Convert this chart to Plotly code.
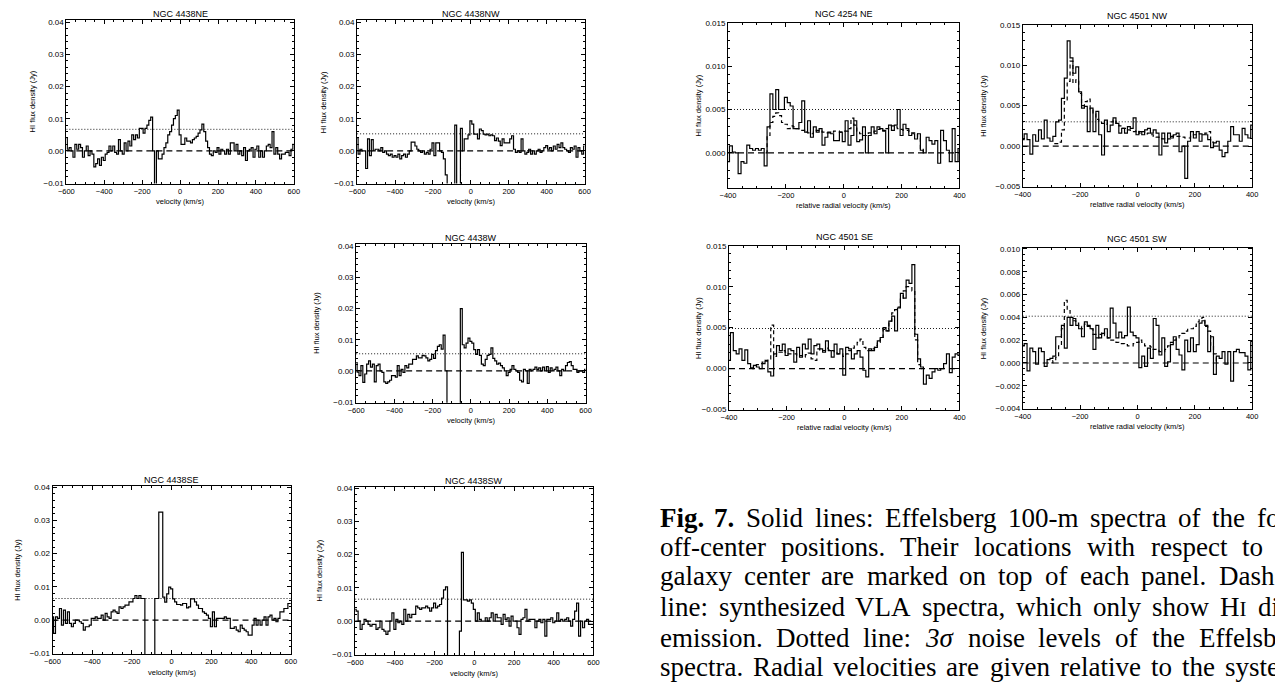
import plotly.graph_objects as go

W, H = 1275, 683

# ---------------- velocity grids (km/s) ----------------
vel_4438 = list(range(-600, 601, 10))
vel_right = list(range(-400, 401, 10))

# ---------------- NGC 4438 Effelsberg spectra (mJy) ----------------
spec_4438_ne = [4, 0.5, 1, 0, -2, 2, 0.5, 2, 1, -2,
                0, 1.5, -1.5, 0, -1, -5, -4, -2.5, -4.5, -2,
                -3, -1, -0.5, 1.5, 0, 1.5, -0.5, -1, 3.5, 0,
                -1, 2.5, 0, 3, 1.5, 5, 3.5, 5, 4, 7,
                7, 5.5, 7, 8, 9.5, 10.5, 0, -15, 0, -2.5,
                -2.5, -1, 1, 2.5, 5, 6, 8, 10, 11, 12.7,
                5, 2, 2, 4, 3, 3, 2.5, 3.5, 4, 4.5,
                5.5, 6.5, 8.3, 6, 3, 1, -1, -1.5, 0, -0.5,
                1, -1, 0.5, 0, -1, 0.5, -1, 2.5, 2.5, 0,
                2, -1, 0, -1.5, 1, -3, 0, 0.5, 1, -2,
                0.5, 1.5, -2, 0, -2, 0, 1.5, 2, 1, 6,
                -1, 1, -1, -2.5, -1, -1, -0.5, -0.5, -1.5, 0.5,
                2]
spec_4438_nw = [4, -1, 0.5, 0, 0, -5.5, 3.7, -1.5, 3.5, 0,
                0.5, 0.5, 0, 1, -0.5, 0, -1, -1.5, -1, -2,
                -1.5, -2, -1, -2.5, -1.5, -1, -2, -1, 0, 2.7,
                2.7, 1.5, 0.5, 0, -0.5, 0, -1, -0.5, -1, 0.5,
                2.5, -1.5, 2.5, 2.5, 0, -0.5, -2.5, -7.5, -15, -15,
                -15, -15, 8, -15, -15, 7, 0, 3.7, 3.7, 5,
                9.3, 8.3, 5.2, 5.2, 3.7, 6.8, 6.3, 5.2, 5, 5.2,
                4.7, 5, 4.7, 3.2, 4, 3, 1.6, 3.7, 2.5, 2.5,
                2.5, 3.7, 4.7, 0.5, -0.5, 0, -0.5, 3.7, 0, -1,
                -0.5, 0.5, -1, 0, -1, 0, 0.5, -0.5, 0, 1,
                1.6, 0.5, 1, 0, 1.5, 0.5, 2, 1, 2.5, 1,
                0.5, 0, -0.5, 1, 0.5, 1.5, -2, 1, 0, -1,
                1.5]
spec_4438_w = [2.7, -0.4, -1.5, 1.7, -3.7, -1, 2.2, 3.2, 1.2, 2.2,
               -3.5, 1.7, 2.2, 0, -0.5, -3.5, -4, -3.5, -3, -1.5,
               -1.5, -2, 1.7, -1.5, 0.5, -0.5, 1.7, 1, 2.2, 2.2,
               3.7, 3.7, 4.8, 4.2, 4.2, 5, 4.8, 4.2, 3.2, 3.7,
               5.3, 4, 6.5, 7.9, 8.4, 7, 11.5, 0, -15, -15,
               -15, -15, -15, -15, -15, 20, 8.4, 7.4, 8.9, 10.5,
               9.5, 8.9, 6.8, 5.3, 6.8, 5, 2.2, 1.7, 3.7, 5,
               5.3, 7.4, 4, 3.2, 2.2, 2.5, 1.7, 1, 0, -1.5,
               -0.5, 0.5, 1.7, 0.5, 0, -0.5, -3, -3.5, 0.5, 0,
               -4, 0.5, 0, 0.5, 1.2, 0.5, 1, 0, 1.2, 0,
               1.4, -0.5, 1, 0, 0.5, 1.2, 0, -1.5, 0.5, 0,
               1.7, 2.7, 3, 1.7, 0.5, 0.5, -0.5, 0, 0, -0.5,
               0.5]
spec_4438_se = [1, -4, 1, 0.5, 3.5, -1.5, 3, -1, 2.5, -1,
                -2, -1, 0, 0, -0.5, -1, -3, -2, -2, -1.5,
                0.5, 0.5, 1, 0.5, 0.5, 1.5, 0, 2, 1, 0.5,
                2.5, 3, 2.5, 2, 4, 3.5, 4, 4.5, 4.5, 5.5,
                5.5, 6.5, 7.4, 6.5, 7.4, 6.5, 6.5, -15, -15, -15,
                -15, -15, 6.5, 6.5, 32.5, 32.5, 6.9, 5.4, 7.9, 9.9,
                9.4, 6.4, 5.5, 4.7, 4.7, 4.5, 5, 5, 3.7, 4,
                6.4, 6.4, 5.5, 4.5, 3.5, 3.5, 2.5, 2, 1.5, 0.5,
                -2, 2.5, -2, 0.5, 0.5, 0.5, 0.5, 1, 0.5, 0.5,
                -2.5, -2.5, -2, -3, -3.5, -1.5, -2.5, -3, -3.5, -4.5,
                -4.5, -1.5, 0.5, -1.5, 0, -1.5, 0, 1, -1.5, 1,
                1.5, 0, 0.5, -0.5, 0.5, 2.5, 2.5, 3.5, 3.5, 5,
                5]
spec_4438_sw = [3.5, 3, 0, -2.5, -1, 0.5, 0, -1, -1.5, -1,
                -1, -2.5, -2, 0, -2.5, -3, -4, -3, 0, 2.5,
                -2.5, 0.5, -0.5, 0, -1, 3.5, 0, 2, 1, 2,
                2, 4.5, 4, 3.5, 4, 4, 4.5, 4, 3, 4,
                5.4, 4, 4.5, 5, 6.9, 9.4, 10.3, -15, -15, -15,
                -15, -15, -15, -3, 20.7, 6.4, 6.4, 6, 6.4, 5.4,
                3.5, 0, 2.5, 0.5, 0, 0, 1, 0, 1, 2.5,
                0, 2, 1, 1, -1, 2, 0.5, 1, -1.5, 1.5,
                0, 0, -2, -4, 0.5, 1, 3.5, 0, 0.5, 0.5,
                0.5, -2, 0, 0.5, -0.5, 0.5, -4.5, 0.5, 0.5, 1,
                -0.5, 0, 2.5, 0, 0.5, 0, 0.5, 1, 0, -1.5,
                0.5, 3, 5.4, -4.5, 0, -2, 0, 0.5, -1, -1,
                -1]

# ---------------- NGC 4254 / NGC 4501 Effelsberg spectra (mJy) ----------------
spec_4254_ne = [-1, 0.8, 0.1, 0, -2.4, -1, -1.2, 0.9, 0.5, 0.3,
                0.5, 0.3, 0.5, -1.5, 3, 6.8, 5, 7.3, 5, 5,
                6.4, 5.8, 5.4, 2.8, 2.8, 3.5, 6, 2.4, 3.7, 1.8,
                3, 2.4, 2.8, 0.9, 1.8, 2.4, 2.2, 1.4, 1.4, 2.4,
                1.3, 3.7, 0.9, 2, 3.7, 1.3, 1.5, 3, 0, 2,
                3, 2.2, 3, 2.8, 2.6, 0, 3.2, 2.6, 3.2, 5,
                2, 3.3, 2.8, 2, 2.2, 1.6, 2.2, 0.3, 0, 1.8,
                1.4, 1, 1.4, -1.2, 2.6, 1.4, 0.3, -1, 2.8, -1,
                0.5]
spec_4501_nw = [0.8, 1.5, 0.8, -1, 1.4, 0.6, 2, 0.9, 3.2, 1,
                0.6, 1.2, 3, 3.2, 5.9, 8.4, 13, 10.9, 9, 9.8,
                6.7, 4.7, 4.9, 1.8, 4.7, 1.8, 4.3, 1.4, -1.1, 3.2,
                1.8, 2.6, 3.5, 2.8, 1.6, 2.2, 1.6, 2.4, 2.2, 3.5,
                1.4, 1.8, 1.4, 2, 2.2, 1.6, 2, 1.6, -1.1, 1.6,
                0.4, 1.6, 1, 1.4, 1.6, -0.7, 0, -4, 0.6, 1.8,
                1, 1.8, 0.6, 1.4, 1.4, 0.8, -0.2, 0.4, 0.6, -0.5,
                -1.3, -0.8, 0.6, 2.4, 1.4, 1.4, 0.6, 2.2, 1.4, 1,
                2.6]
spec_4501_se = [1, 4.4, 2.2, 1.8, 2.4, 1, 2.3, 0.6, 0.1, 0.4,
                0.2, 0, 0.6, 0.9, -0.4, -0.9, 1.8, 2.8, 2.2, 3,
                1.6, 2.4, 2.2, 0.8, 2.6, 1.4, 3, 2.4, 3.6, 1.8,
                2.8, 3, 2.4, 2, 3.4, 2.2, 1.4, 3, 1.8, 2.4,
                -0.8, 2.6, 2.4, 1.2, 1.8, 2.2, 1.4, -0.2, -1, 2.4,
                2.2, 2.6, 3.4, 3.8, 5, 4.6, 5.8, 6.4, 4.6, 7.4,
                9.2, 8.6, 10.8, 10.4, 12.7, 4.2, 1.2, 0.2, -1.9, -0.8,
                -1.2, -0.4, 0, -0.2, 0, 0.6, 1.8, -0.5, 1.4, 1.8,
                1.6]
spec_4501_sw = [1.5, 1.7, -0.7, 1.3, 1.0, -0.1, 1.3, 1.0, -0.3, 0.3,
                0.4, 0.6, 2.3, 2.3, 3.3, 1.3, 4.0, 3.3, 3.9, 3.3,
                3.0, 2.3, 3.6, 3.3, 3.0, 1.2, 3.3, 2.2, 2.6, 3.0,
                2.2, 4.8, 3.5, 2.2, 2.7, 2.2, 2.4, 4.9, 2.7, 2.4,
                2.2, -0.4, 0.6, -0.3, 1.3, 0.4, 3.9, 3.3, 0.7, 2.2,
                -0.3, 0.1, 1.6, 2.3, 1.2, 0.7, -0.6, 2.0, 1.0, 2.2,
                1.0, 1.6, 3.5, 3.7, 3.3, 1.0, 2.3, -1.0, 0.6, 0.4,
                1.0, -0.1, 1.0, -1.6, 1.0, 1.2, 0.9, 0.9, 0.6, -0.6,
                1.9]

# ---------------- synthesized VLA spectra (mJy) ----------------
vla_4254_ne_vel = list(range(-270, 281, 10))
vla_4254_ne = [0, 2, 3.5, 4.2, 4.6, 4.3, 3.5, 3.3, 2.8, 3.1,
               3, 2.8, 2.6, 2.6, 2.4, 2.3, 2.2, 2.5, 2.6, 2.5,
               2.4, 2.3, 2.3, 2.4, 2.5, 2.5, 2.4, 2.5, 2.5, 2.8,
               4, 3.2, 2.5, 2.2, 2, 2, 2.3, 2.4, 2.5, 2.7,
               2.8, 2.5, 2.8, 3.0, 3.1, 3.0, 2.8, 2.7, 2.6, 2.6,
               2.4, 2.3, 2.2, 1.8, 0.5, 0]
vla_4501_nw_vel = list(range(-290, 271, 10))
vla_4501_nw = [0.3, 0.3, 0.5, 2, 5.5, 8, 10.5, 7.8, 8.2, 6.5,
               5, 5.5, 5.8, 4.6, 4, 3.3, 3, 2.8, 2.7, 3,
               3, 3.2, 2.8, 2.5, 2.2, 2.2, 2, 1.8, 1.8, 1.9,
               1.6, 1.8, 1.5, 1.6, 1.4, 1.2, 1.1, 1.0, 0.9, 0.8,
               0.9, 1.2, 1.3, 1.2, 1.2, 1.1, 1, 1, 1.2, 1.4,
               1.5, 1.5, 1.4, 1.6, 1.8, 0.5, 0]
vla_4501_se_vel = list(range(-320, 271, 10))
vla_4501_se = [0, 0.3, 0.5, 0.6, 0.8, 1, 1.2, 5.3, 1.5, 2,
               2, 2.2, 2, 1.8, 1.8, 1.8, 1.6, 1.6, 1.4, 1.7,
               1.9, 1.2, 1, 2.4, 2.2, 2.2, 2.5, 2.3, 2.2, 2,
               1.8, 1.8, 1.5, 1.8, 2.2, 2.5, 2.8, 3.2, 3.6, 2.6,
               2.2, 2.2, 2.4, 2.8, 3.2, 3.8, 4.8, 4.6, 5.8, 6.8,
               7.2, 7.5, 8.5, 9.5, 10, 10, 9.5, 3.5, 0.5, 0]
vla_4501_sw_vel = list(range(-300, 281, 10))
vla_4501_sw = [0, 0.2, 0.5, 1.5, 3, 5.5, 4.6, 4.0, 3.7, 3.5,
               3.2, 3.0, 3.4, 3.2, 3.0, 2.5, 2.2, 2.5, 2.7, 2.4,
               2.2, 2.0, 2.0, 1.8, 1.7, 1.7, 1.6, 1.5, 1.5, 1.7,
               1.8, 2.0, 1.8, 1.5, 1.5, 1.4, 1.2, 1.1, 1.0, 1.0,
               1.2, 1.5, 1.8, 2.0, 2.2, 2.4, 2.6, 2.8, 3.0, 3.0,
               3.2, 3.6, 3.9, 4.0, 3.2, 2.8, 1.5, 0.8, 0]

# ---------------- 3 sigma noise levels (Jy) ----------------
noise = {"4438NE": 0.0067, "4438NW": 0.0053, "4438W": 0.0055, "4438SE": 0.0065,
         "4438SW": 0.0066, "4254NE": 0.0050, "4501NW": 0.0030, "4501SE": 0.0049,
         "4501SW": 0.0041}

titles = {"4438NE": "NGC 4438NE", "4438NW": "NGC 4438NW", "4438W": "NGC 4438W",
          "4438SE": "NGC 4438SE", "4438SW": "NGC 4438SW", "4254NE": "NGC 4254 NE",
          "4501NW": "NGC 4501 NW", "4501SE": "NGC 4501 SE", "4501SW": "NGC 4501 SW"}

# ---------------- caption (justified text, clipped at the right edge) ----------------
caption_words = [
    ["Fig.", "7.", "Solid", "lines:", "Effelsberg", "100-m", "spectra", "of", "the", "four"],
    ["off-center", "positions.", "Their", "locations", "with", "respect", "to"],
    ["galaxy", "center", "are", "marked", "on", "top", "of", "each", "panel.", "Dashed"],
    ["line:", "synthesized", "VLA", "spectra,", "which", "only", "show", "HI", "disk"],
    ["emission.", "Dotted", "line:", "3σ", "noise", "levels", "of", "the", "Effelsberg"],
    ["spectra.", "Radial", "velocities", "are", "given", "relative", "to", "the", "systemic"],
]
# layout of the caption: left margin, start of the last visible word, line centres (px)
CAP_LEFT = 658
cap_last_x = [1262, 1247, 1223, 1263, 1203, 1230]
cap_y = [521, 550, 580, 611, 642, 672]
CAP_SIZE = 27
SC_SIZE = 21

# Times / Liberation Serif advance widths (1/1000 em)
TW = dict(zip("abcdefghijklmnopqrstuvwxyz",
              [444, 500, 444, 500, 444, 333, 500, 500, 278, 278, 500, 278, 778,
               500, 500, 500, 500, 333, 389, 278, 500, 500, 722, 500, 500, 444]))
TW.update(dict(zip("ABCDEFGHIJKLMNOPQRSTUVWXYZ",
                   [722, 667, 667, 722, 611, 556, 722, 722, 333, 389, 722, 611, 889,
                    722, 722, 556, 722, 667, 556, 611, 722, 722, 944, 722, 722, 611])))
TW.update({c: 500 for c in "0123456789"})
TW.update({".": 250, ",": 250, ":": 278, "-": 333, "σ": 560})


def word_px(w):
    if w == "HI":
        return (722 * CAP_SIZE + 333 * SC_SIZE) / 1000.0
    return sum(TW.get(c, 500) for c in w) * CAP_SIZE / 1000.0


def word_markup(w, li, wi):
    if li == 0 and wi < 2:
        return f"<b>{w}</b>"
    if w == "HI":
        return f"H<span style='font-size:{SC_SIZE}px'>I</span>"
    if w == "3σ":
        return "<i>3σ</i>"
    return w


# ---------------- panel layout (pixel boxes: left, right, top, bottom) ----------------
panels = [
    dict(key="4438NE", box=(59, 289, 16, 182), vel=vel_4438, spec=spec_4438_ne, vla=None,
         xr=[-600, 600], yr=[-0.0102, 0.0408], ydt=0.01, ymin=0.002, yfmt=".2f", ytoff=34, grp="a"),
    dict(key="4438NW", box=(353, 583, 16, 182), vel=vel_4438, spec=spec_4438_nw, vla=None,
         xr=[-600, 600], yr=[-0.0102, 0.0408], ydt=0.01, ymin=0.002, yfmt=".2f", ytoff=34, grp="a"),
    dict(key="4438W", box=(352, 584, 243, 404), vel=vel_4438, spec=spec_4438_w, vla=None,
         xr=[-600, 600], yr=[-0.0102, 0.0408], ydt=0.01, ymin=0.002, yfmt=".2f", ytoff=40, grp="a"),
    dict(key="4438SE", box=(45, 286, 488, 659), vel=vel_4438, spec=spec_4438_se, vla=None,
         xr=[-600, 600], yr=[-0.0103, 0.0405], ydt=0.01, ymin=0.002, yfmt=".2f", ytoff=35, grp="a"),
    dict(key="4438SW", box=(351, 592, 489, 660), vel=vel_4438, spec=spec_4438_sw, vla=None,
         xr=[-600, 600], yr=[-0.0103, 0.0405], ydt=0.01, ymin=0.002, yfmt=".2f", ytoff=36, grp="a"),
    dict(key="4254NE", box=(728, 962, 19, 186), vel=vel_right, spec=spec_4254_ne,
         vla=(vla_4254_ne_vel, vla_4254_ne),
         xr=[-400, 400], yr=[-0.004, 0.015], ydt=0.005, ymin=0.001, yfmt=".3f", ytoff=30, grp="b"),
    dict(key="4501NW", box=(1026, 1258, 21, 185), vel=vel_right, spec=spec_4501_nw,
         vla=(vla_4501_nw_vel, vla_4501_nw),
         xr=[-400, 400], yr=[-0.005, 0.015], ydt=0.005, ymin=0.001, yfmt=".3f", ytoff=40, grp="b"),
    dict(key="4501SE", box=(729, 962, 245, 411), vel=vel_right, spec=spec_4501_se,
         vla=(vla_4501_se_vel, vla_4501_se),
         xr=[-400, 400], yr=[-0.005, 0.015], ydt=0.005, ymin=0.001, yfmt=".3f", ytoff=31, grp="b"),
    dict(key="4501SW", box=(1026, 1258, 247, 410), vel=vel_right, spec=spec_4501_sw,
         vla=(vla_4501_sw_vel, vla_4501_sw),
         xr=[-400, 400], yr=[-0.004, 0.0101], ydt=0.002, ymin=0.0005, yfmt=".3f", ytoff=40, grp="b"),
]

SANS = "Liberation Sans, Arial, sans-serif"
SERIF = "Liberation Serif, Times New Roman, serif"
fig = go.Figure()
annotations = []
layout_axes = {}

for i, p in enumerate(panels, start=1):
    xa = "x" if i == 1 else f"x{i}"
    ya = "y" if i == 1 else f"y{i}"
    l, r, t, b = p["box"]
    xdom = [l / W, r / W]
    ydom = [1 - b / H, 1 - t / H]

    # zero line (dashed)
    fig.add_trace(go.Scatter(x=p["xr"], y=[0, 0], mode="lines", xaxis=xa, yaxis=ya,
                             line=dict(color="black", width=1.1, dash="6px,4px"),
                             showlegend=False, hoverinfo="skip"))
    # 3 sigma level (dotted)
    fig.add_trace(go.Scatter(x=p["xr"], y=[noise[p["key"]]] * 2, mode="lines", xaxis=xa, yaxis=ya,
                             line=dict(color="black", width=0.9, dash="1px,2px"),
                             showlegend=False, hoverinfo="skip"))
    # VLA spectrum (dashed)
    if p["vla"] is not None:
        vv, vs = p["vla"]
        fig.add_trace(go.Scatter(x=vv, y=[s / 1000.0 for s in vs], mode="lines",
                                 xaxis=xa, yaxis=ya, line_shape="hvh",
                                 line=dict(color="black", width=1.2, dash="4px,3px", simplify=False),
                                 showlegend=False))
    # Effelsberg spectrum (solid histogram)
    fig.add_trace(go.Scatter(x=p["vel"], y=[s / 1000.0 for s in p["spec"]], mode="lines",
                             xaxis=xa, yaxis=ya, line_shape="hvh",
                             line=dict(color="black", width=1.2, simplify=False),
                             showlegend=False))

    common = dict(showline=True, linecolor="black", linewidth=1, mirror="ticks",
                  ticks="inside", ticklen=4, tickwidth=1, tickcolor="black",
                  showgrid=False, zeroline=False)
    layout_axes["xaxis" if i == 1 else f"xaxis{i}"] = dict(
        common, domain=xdom, range=p["xr"], anchor=ya, dtick=200, tick0=0,
        tickfont=dict(family=SANS, size=7.5, color="black"),
        minor=dict(ticks="inside", ticklen=2, dtick=50, tickcolor="black"),
        ticklabelstandoff=0)
    layout_axes["yaxis" if i == 1 else f"yaxis{i}"] = dict(
        common, domain=ydom, range=p["yr"], anchor=xa, dtick=p["ydt"], tick0=0,
        tickformat=p["yfmt"], tickfont=dict(family=SANS, size=8, color="black"),
        minor=dict(ticks="inside", ticklen=2, dtick=p["ymin"], tickcolor="black"),
        ticklabelstandoff=0)

    cx = (l + r) / 2 / W
    # panel title
    annotations.append(dict(text=titles[p["key"]], x=cx, y=1 - (t - (6 if p["grp"] == "a" else 9)) / H,
                            xref="paper", yref="paper", xanchor="center", yanchor="middle",
                            showarrow=False, font=dict(family=SANS, size=9, color="black")))
    # x-axis title
    xt = "velocity (km/s)" if p["grp"] == "a" else "relative radial velocity (km/s)"
    annotations.append(dict(text=xt, x=cx, y=1 - (b + 18) / H,
                            xref="paper", yref="paper", xanchor="center", yanchor="middle",
                            showarrow=False, font=dict(family=SANS, size=7.5, color="black")))
    # y-axis title
    annotations.append(dict(text="HI flux density (Jy)", x=(l - p["ytoff"]) / W,
                            y=1 - (t + b) / 2 / H, xref="paper", yref="paper",
                            xanchor="center", yanchor="middle", textangle=-90,
                            showarrow=False, font=dict(family=SANS, size=7.5, color="black")))

# caption: words spread evenly so that each line matches the justified original
for li, (words, xlast, yy) in enumerate(zip(caption_words, cap_last_x, cap_y)):
    widths = [word_px(w) for w in words]
    n = len(words)
    gap = (xlast - CAP_LEFT - sum(widths[:-1])) / (n - 1)
    xx = CAP_LEFT
    for wi, w in enumerate(words):
        annotations.append(dict(text=word_markup(w, li, wi), x=xx / W, y=1 - yy / H,
                                xref="paper", yref="paper", xanchor="left", yanchor="middle",
                                showarrow=False, borderpad=0,
                                font=dict(family=SERIF, size=CAP_SIZE, color="black")))
        xx += widths[wi] + gap

fig.update_layout(width=W, height=H, margin=dict(l=0, r=0, t=0, b=0),
                  paper_bgcolor="white", plot_bgcolor="white",
                  annotations=annotations, showlegend=False, **layout_axes)

fig.write_html("out.html")
